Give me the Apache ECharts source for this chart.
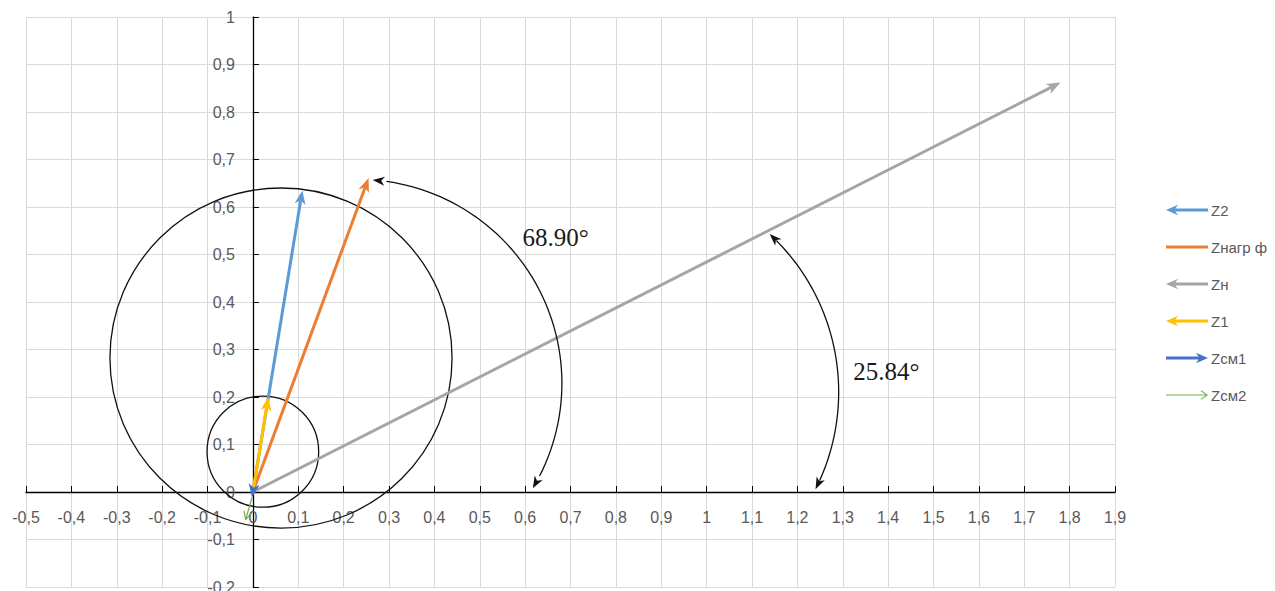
<!DOCTYPE html>
<html>
<head>
<meta charset="utf-8">
<script src="https://cdn.jsdelivr.net/npm/echarts@6/dist/echarts.min.js"></script>
<style>
  html, body { margin: 0; padding: 0; background: #fff; }
  #chart { width: 1275px; height: 591px; }
</style>
</head>
<body>
<div id="chart"></div>
<script>
// ---- impedance vectors (R, X) ----
const vectorNames = ['Z2', 'Zнагр ф', 'Zн', 'Z1', 'Zсм1', 'Zсм2'];
const vectorTails = [[0, 0], [0, 0], [0, 0], [0, 0], [0, 0], [-0.002, -0.012]];
const vectorHeads = [[0.109, 0.635], [0.255, 0.661], [1.78, 0.862], [0.034, 0.2], [-0.002, -0.012], [-0.016, -0.058]];

// ---- circles: centre and radii along R and X ----
const circleCenters = [[0.062, 0.282], [0.022, 0.085]];
const circleRadii = [[0.377, 0.358], [0.123, 0.117]];

// ---- angle annotations: arc start, a point on the arc, arc end ----
const angleTexts = ['68.90°', '25.84°'];
const arcStarts = [[0.264, 0.657], [1.139, 0.543]];
const arcMids = [[0.681, 0.236], [1.291, 0.215]];
const arcEnds = [[0.617, 0.008], [1.240, 0.006]];
const angleTextAnchors = [[0.667, 0.535], [1.396, 0.253]];

// ---- axis ranges ----
const xRange = [-0.5, 1.9];
const yRange = [-0.2, 1];
const tickStep = 0.1;

// layout
const W = 1275, H = 591;
const gridBox = { left: 26, right: 160, top: 17, bottom: 4 };
const plotW = W - gridBox.left - gridBox.right;
const plotH = H - gridBox.top - gridBox.bottom;
// axes cross at the origin: shift each axis from its grid edge to zero
const xAxisShift = -plotH * (0 - yRange[0]) / (yRange[1] - yRange[0]);
const yAxisShift = -plotW * (0 - xRange[0]) / (xRange[1] - xRange[0]);

// styling
const vectorColors = ['#5B9BD5', '#ED7D31', '#A5A5A5', '#FFC000', '#4472C4', '#70AD47'];
const vectorWidths = [3, 3, 3, 3, 3, 1.2];
const legendIcons = [
  'path://M0,6L13,0.5L10,4.5L45,4.5L45,7.5L10,7.5L13,11.5Z',
  'path://M0,4.5L45,4.5L45,7.5L0,7.5Z',
  'path://M0,6L13,0.5L10,4.5L45,4.5L45,7.5L10,7.5L13,11.5Z',
  'path://M0,6L13,0.5L10,4.5L45,4.5L45,7.5L10,7.5L13,11.5Z',
  'path://M45,6L32,0.5L35,4.5L0,4.5L0,7.5L35,7.5L32,11.5Z',
  'path://M0,5.4L42.5,5.4L37,1.6L37.8,0.8L45,6L37.8,11.2L37,10.4L42.5,6.6L0,6.6Z'
];

function fmtTick(v) {
  const r = Math.round(v * 10) / 10;
  return String(r === 0 ? 0 : r).replace('.', ',');
}

// filled "stealth" arrowhead with tip at p, pointing along unit vector d
function stealthHead(p, d, len, half) {
  const nx = -d[1], ny = d[0];
  const bx = p[0] - d[0] * len, by = p[1] - d[1] * len;
  const notch = [p[0] - d[0] * len * 0.72, p[1] - d[1] * len * 0.72];
  return [p, [bx + nx * half, by + ny * half], notch, [bx - nx * half, by - ny * half]];
}

function vectorSeries(i) {
  return {
    name: vectorNames[i],
    type: 'custom',
    coordinateSystem: 'cartesian2d',
    itemStyle: { color: vectorColors[i] },
    z: 10 + i,
    encode: { x: [0, 2], y: [1, 3] },
    data: [[vectorTails[i][0], vectorTails[i][1], vectorHeads[i][0], vectorHeads[i][1]]],
    renderItem: function (params, api) {
      const p0 = api.coord([api.value(0), api.value(1)]);
      const p1 = api.coord([api.value(2), api.value(3)]);
      let dx = p1[0] - p0[0], dy = p1[1] - p0[1];
      const L = Math.hypot(dx, dy) || 1;
      dx /= L; dy /= L;
      const color = vectorColors[i];
      const w = vectorWidths[i];
      const children = [];
      if (w < 2) {
        children.push({ type: 'line', shape: { x1: p0[0], y1: p0[1], x2: p1[0], y2: p1[1] },
          style: { stroke: color, lineWidth: w } });
        const nx = -dy, ny = dx, hl = 8, hw = 4;
        children.push({ type: 'polyline', shape: { points: [
          [p1[0] - dx * hl + nx * hw, p1[1] - dy * hl + ny * hw], p1,
          [p1[0] - dx * hl - nx * hw, p1[1] - dy * hl - ny * hw]] },
          style: { stroke: color, lineWidth: w, fill: null } });
      } else {
        const hl = 14, hw = 5.5;
        const cut = Math.max(0, Math.min(L, hl * 0.72));
        children.push({ type: 'line', shape: { x1: p0[0], y1: p0[1],
          x2: p1[0] - dx * cut, y2: p1[1] - dy * cut },
          style: { stroke: color, lineWidth: w } });
        children.push({ type: 'polygon', shape: { points: stealthHead(p1, [dx, dy], hl, hw) },
          style: { fill: color } });
      }
      return { type: 'group', children: children };
    }
  };
}

const circleSeries = {
  name: 'circles',
  type: 'custom',
  coordinateSystem: 'cartesian2d',
  z: 5,
  silent: true,
  data: circleCenters.map((c, k) => [c[0], c[1], circleRadii[k][0], circleRadii[k][1]]),
  renderItem: function (params, api) {
    const c = api.coord([api.value(0), api.value(1)]);
    const s = api.size([api.value(2), api.value(3)]);
    return { type: 'ellipse', shape: { cx: c[0], cy: c[1], rx: s[0], ry: s[1] },
      style: { stroke: '#111', lineWidth: 1.3, fill: null } };
  }
};

const arcSeries = {
  name: 'angles',
  type: 'custom',
  coordinateSystem: 'cartesian2d',
  z: 30,
  silent: true,
  data: arcStarts.map((s, k) => [s[0], s[1], arcMids[k][0], arcMids[k][1], arcEnds[k][0], arcEnds[k][1],
    angleTextAnchors[k][0], angleTextAnchors[k][1], k]),
  renderItem: function (params, api) {
    const A = api.coord([api.value(0), api.value(1)]);
    const B = api.coord([api.value(2), api.value(3)]);
    const C = api.coord([api.value(4), api.value(5)]);
    const T = api.coord([api.value(6), api.value(7)]);
    const k = api.value(8);
    const d = 2 * (A[0] * (B[1] - C[1]) + B[0] * (C[1] - A[1]) + C[0] * (A[1] - B[1]));
    const a2 = A[0] * A[0] + A[1] * A[1], b2 = B[0] * B[0] + B[1] * B[1], c2 = C[0] * C[0] + C[1] * C[1];
    const ux = (a2 * (B[1] - C[1]) + b2 * (C[1] - A[1]) + c2 * (A[1] - B[1])) / d;
    const uy = (a2 * (C[0] - B[0]) + b2 * (A[0] - C[0]) + c2 * (B[0] - A[0])) / d;
    const r = Math.hypot(A[0] - ux, A[1] - uy);
    const TWO = Math.PI * 2;
    const mod = v => ((v % TWO) + TWO) % TWO;
    const t0 = Math.atan2(A[1] - uy, A[0] - ux);
    const t1 = Math.atan2(B[1] - uy, B[0] - ux);
    const t2 = Math.atan2(C[1] - uy, C[0] - ux);
    const d02 = mod(t2 - t0), d01 = mod(t1 - t0);
    const sweep = d01 < d02 ? d02 : d02 - TWO;
    const pts = [];
    const n = 60;
    for (let j = 0; j <= n; j++) {
      const t = t0 + sweep * j / n;
      pts.push([ux + r * Math.cos(t), uy + r * Math.sin(t)]);
    }
    const unit = (p, q) => { const l = Math.hypot(p[0] - q[0], p[1] - q[1]) || 1; return [(p[0] - q[0]) / l, (p[1] - q[1]) / l]; };
    const dStart = unit(pts[0], pts[2]);
    const dEnd = unit(pts[n], pts[n - 2]);
    const hl = 12, hw = 4.5;
    const trimmed = pts.slice(2, n - 1);
    return {
      type: 'group',
      children: [
        { type: 'polyline', shape: { points: trimmed }, style: { stroke: '#111', lineWidth: 1.3, fill: null } },
        { type: 'polygon', shape: { points: stealthHead(pts[0], dStart, hl, hw) }, style: { fill: '#111' } },
        { type: 'polygon', shape: { points: stealthHead(pts[n], dEnd, hl, hw) }, style: { fill: '#111' } },
        { type: 'text', x: T[0], y: T[1], style: { text: angleTexts[k], fill: '#1a1a1a',
          font: '25px "Liberation Serif", serif', align: 'center', verticalAlign: 'middle' } }
      ]
    };
  }
};

const axisCommon = {
  type: 'value',
  interval: tickStep,
  axisLine: { onZero: false, lineStyle: { color: '#000', width: 1.3 } },
  axisTick: { show: true, inside: true, length: 6, lineStyle: { color: '#000', width: 1 } },
  axisLabel: { formatter: fmtTick, color: '#595959', fontSize: 16, fontFamily: '"Liberation Sans", Arial, sans-serif' },
  splitLine: { show: true, lineStyle: { color: '#d9d9d9', width: 1 } }
};

const chart = echarts.init(document.getElementById('chart'), null, { renderer: 'svg' });
chart.setOption({
  animation: false,
  backgroundColor: '#fff',
  grid: Object.assign({ containLabel: false, outerBoundsMode: 'none' }, gridBox),
  xAxis: Object.assign({}, axisCommon, { min: xRange[0], max: xRange[1], position: 'bottom', offset: xAxisShift,
    axisLabel: Object.assign({}, axisCommon.axisLabel, { margin: 17 }) }),
  yAxis: Object.assign({}, axisCommon, { min: yRange[0], max: yRange[1], position: 'left', offset: yAxisShift,
    axisLabel: Object.assign({}, axisCommon.axisLabel, { margin: 18 }) }),
  legend: {
    orient: 'vertical',
    left: 1161,
    top: 197,
    itemWidth: 42,
    itemHeight: 12,
    itemGap: 21,
    symbolKeepAspect: true,
    selectedMode: false,
    textStyle: { color: '#595959', fontSize: 15, lineHeight: 16, fontFamily: '"Liberation Sans", Arial, sans-serif', padding: [0, 0, 0, -2] },
    data: vectorNames.map((nm, i) => ({ name: nm, icon: legendIcons[i],
      itemStyle: { color: vectorColors[i], borderWidth: 0 } }))
  },
  series: [circleSeries].concat(vectorNames.map((_, i) => vectorSeries(i))).concat([arcSeries])
});
</script>
</body>
</html>
